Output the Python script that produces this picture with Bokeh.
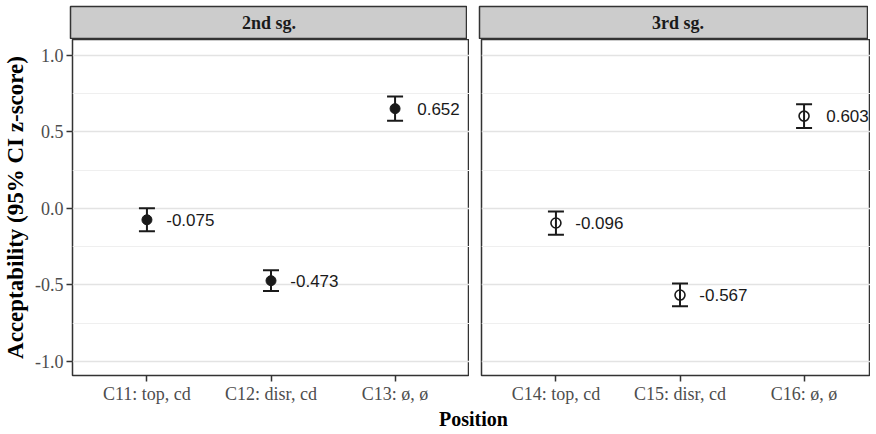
from bokeh.plotting import figure
from bokeh.models import ColumnDataSource, Range1d, FixedTicker, Whisker, TeeHead
from bokeh.layouts import column, row
from bokeh.core.properties import value
from bokeh.embed import file_html
from bokeh.resources import INLINE

# ---------------- data ----------------
panels = ["2nd sg.", "3rd sg."]
categories_2sg = ["C11: top, cd", "C12: disr, cd", "C13: ø, ø"]
categories_3sg = ["C14: top, cd", "C15: disr, cd", "C16: ø, ø"]
means_2sg = [-0.075, -0.473, 0.652]
lower_2sg = [-0.149, -0.541, 0.573]
upper_2sg = [0.000, -0.405, 0.732]
means_3sg = [-0.096, -0.567, 0.603]
lower_3sg = [-0.173, -0.640, 0.526]
upper_3sg = [-0.020, -0.492, 0.680]
y_ticks = [-1.0, -0.5, 0.0, 0.5, 1.0]
y_minor_ticks = [-0.75, -0.25, 0.25, 0.75]
y_tick_labels = ["-1.0", "-0.5", "0.0", "0.5", "1.0"]
y_title = "Acceptability (95% CI z-score)"
x_title = "Position"

# ---------------- style ----------------
SERIF = "Liberation Serif"
SANS = "Liberation Sans"
DARK = "#1a1a1a"
BORDER = "#333333"
STRIP_FILL = "#cccccc"
LABEL_NUDGE = 0.35

TOP = 6
LEFT_MARGIN = 70
GAP = 12
FRAME_W = 397
FRAME_W_RIGHT = 389
FRAME_H = 336
STRIP_H = 33
AXIS_B = 28
BOTTOM_H = 23
PX_PER_UNIT = FRAME_W / 3.2


def make_panel(name, cats, means, lower, upper, filled, is_left, frame_w):
    x_end = 0.4 + frame_w / PX_PER_UNIT
    xr = Range1d(0.4, x_end)
    positions = list(range(1, len(cats) + 1))

    strip = figure(frame_width=frame_w, frame_height=STRIP_H, x_range=xr,
                   y_range=Range1d(0, 1), x_axis_type=None, y_axis_type=None,
                   toolbar_location=None, output_backend="svg", title=None,
                   min_border_left=LEFT_MARGIN if is_left else GAP,
                   min_border_top=TOP, min_border_right=0, min_border_bottom=0,
                   background_fill_color=STRIP_FILL, border_fill_color="white",
                   outline_line_color=BORDER, outline_line_width=1.5)
    strip.text(x=[positions[len(positions) // 2]], y=[0.5], text=[name],
               text_font=value(SERIF), text_font_style="bold",
               text_font_size="18px", text_color=DARK,
               text_align="center", text_baseline="middle")

    p = figure(frame_width=frame_w, frame_height=FRAME_H, x_range=xr,
               y_range=Range1d(-1.093, 1.104),
               y_axis_location="left" if is_left else None,
               toolbar_location=None, output_backend="svg", title=None,
               min_border_left=LEFT_MARGIN if is_left else GAP,
               min_border_top=0, min_border_right=0, min_border_bottom=AXIS_B,
               background_fill_color="white", border_fill_color="white",
               outline_line_color=BORDER, outline_line_width=1.5)

    # grid
    p.xgrid.visible = False
    p.ygrid.ticker = FixedTicker(ticks=y_ticks, minor_ticks=y_minor_ticks)
    p.ygrid.grid_line_color = "#e3e3e3"
    p.ygrid.grid_line_width = 1.3
    p.ygrid.minor_grid_line_color = "#efefef"
    p.ygrid.minor_grid_line_width = 1.0

    # x axis
    ax = p.xaxis[0]
    ax.ticker = FixedTicker(ticks=positions)
    ax.major_label_overrides = {pos: c for pos, c in zip(positions, cats)}
    ax.axis_line_color = None
    ax.major_tick_line_color = BORDER
    ax.major_tick_line_width = 1.5
    ax.major_tick_out = 6
    ax.major_tick_in = 0
    ax.minor_tick_line_color = None
    ax.major_label_standoff = 2
    ax.major_label_text_font = SERIF
    ax.major_label_text_font_size = "18px"
    ax.major_label_text_color = "#4d4d4d"

    if is_left:
        ay = p.yaxis[0]
        ay.ticker = FixedTicker(ticks=y_ticks, minor_ticks=y_minor_ticks)
        ay.major_label_overrides = {t: l for t, l in zip(y_ticks, y_tick_labels)}
        ay.axis_line_color = None
        ay.major_tick_line_color = BORDER
        ay.major_tick_line_width = 1.5
        ay.major_tick_out = 6
        ay.major_tick_in = 0
        ay.minor_tick_line_color = None
        ay.major_label_standoff = 3
        ay.major_label_text_font = SERIF
        ay.major_label_text_font_size = "18px"
        ay.major_label_text_color = "#4d4d4d"
        ay.axis_label = y_title
        ay.axis_label_text_font = SERIF
        ay.axis_label_text_font_style = "bold"
        ay.axis_label_text_font_size = "23px"
        ay.axis_label_text_color = "#000000"
        ay.axis_label_standoff = 4

    src = ColumnDataSource(dict(
        x=positions, mean=means, lower=lower, upper=upper,
        lx=[x + LABEL_NUDGE for x in positions],
        label=[f"{m:.3f}" for m in means],
    ))

    w = Whisker(source=src, base="x", upper="upper", lower="lower",
                line_color=DARK, line_width=2, level="annotation",
                upper_head=TeeHead(size=16, line_color=DARK, line_width=2),
                lower_head=TeeHead(size=16, line_color=DARK, line_width=2))
    p.add_layout(w)

    if filled:
        p.scatter("x", "mean", source=src, size=10, marker="circle",
                  fill_color=DARK, line_color=DARK, line_width=1)
    else:
        p.scatter("x", "mean", source=src, size=10, marker="circle",
                  fill_color=None, line_color=DARK, line_width=1.6)

    p.text("lx", "mean", text="label", source=src,
           text_font=value(SANS), text_font_size="17px", text_color=DARK,
           text_align="center", text_baseline="middle")
    return strip, p


s1, p1 = make_panel(panels[0], categories_2sg, means_2sg, lower_2sg, upper_2sg,
                    True, True, FRAME_W)
s2, p2 = make_panel(panels[1], categories_3sg, means_3sg, lower_3sg, upper_3sg,
                    False, False, FRAME_W_RIGHT)

total_w = LEFT_MARGIN + FRAME_W + GAP + FRAME_W_RIGHT
bottom = figure(frame_width=total_w, frame_height=BOTTOM_H,
                x_range=Range1d(0, total_w), y_range=Range1d(0, BOTTOM_H),
                x_axis_type=None, y_axis_type=None, min_border=0,
                toolbar_location=None, output_backend="svg", title=None,
                outline_line_color=None, border_fill_color="white",
                background_fill_color="white")
full_right = LEFT_MARGIN + FRAME_W + GAP + FRAME_W
bottom.text(x=[(LEFT_MARGIN + full_right) / 2], y=[0], text=[x_title],
            text_font=value(SERIF), text_font_style="bold",
            text_font_size="20px", text_color="#000000",
            text_align="center", text_baseline="bottom")

layout = column(row(s1, s2), row(p1, p2), bottom)

open("out.html", "w").write(file_html(layout, INLINE))
